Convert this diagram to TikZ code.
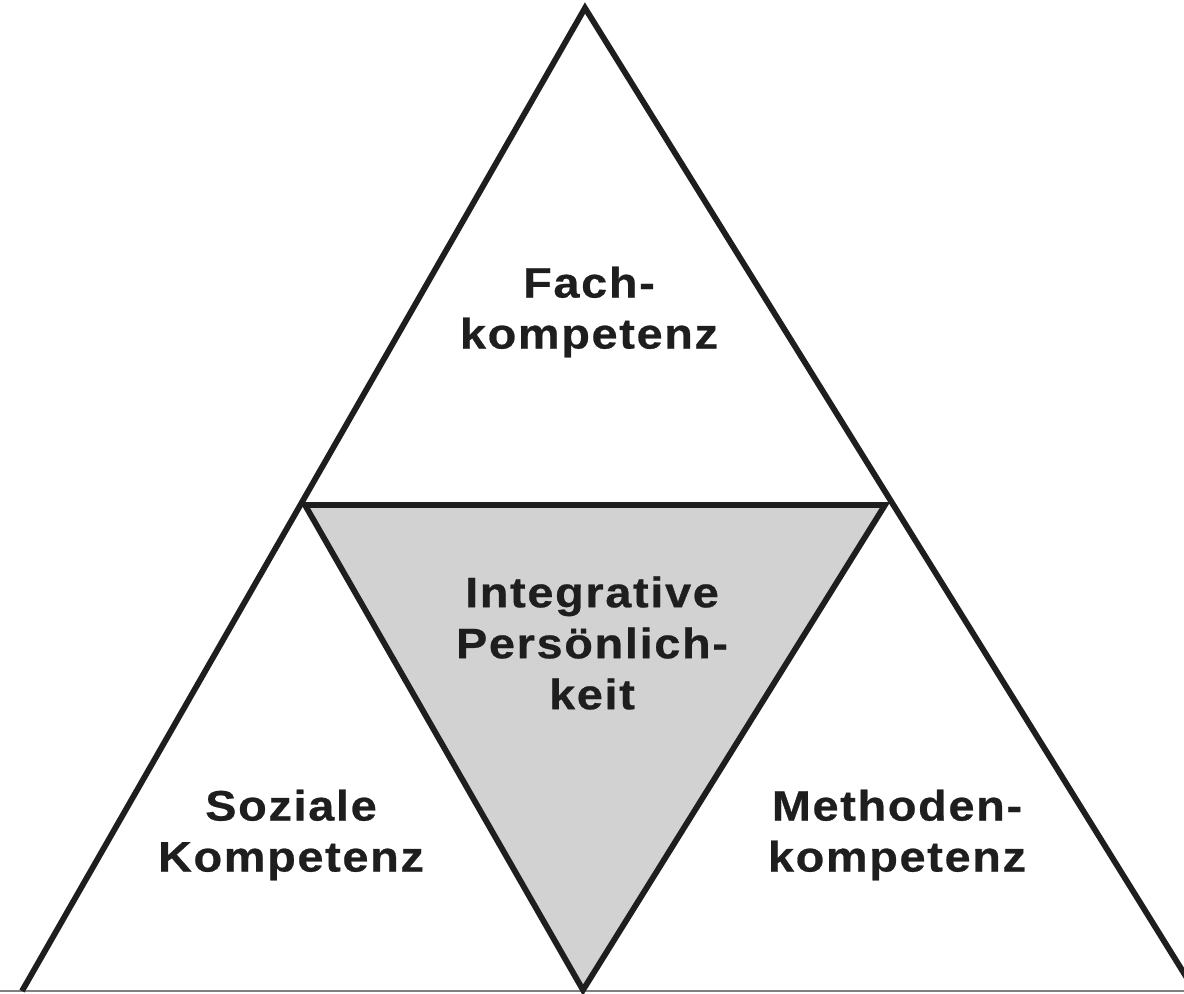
\documentclass[tikz,border=0pt]{standalone}
\usepackage{fontspec}
\setmainfont{Liberation Sans}
\newfontfamily\compfont{Liberation Sans}[LetterSpace=4, FakeStretch=1.1, FakeBold=0.6]
\usetikzlibrary{positioning}
\definecolor{innerGray}{HTML}{D2D2D2}
\definecolor{edgeBlack}{HTML}{1E1E1E}
\definecolor{baseGray}{HTML}{808080}

\begin{document}
\begin{tikzpicture}[
    x=0.01cm, y=-0.01cm,
    edge/.style={draw=edgeBlack, line width=1.65pt, line join=miter},
    comp/.style={align=center, inner sep=0pt, text=edgeBlack, font=\compfont\fontsize{12.1}{14.5}\selectfont\bfseries},
]
    \useasboundingbox (0,0) rectangle (1184,993);
    \clip (0,0) rectangle (1184,993);

    \coordinate (apex) at (585,8);
    \coordinate (outerL) at (22,991);
    \coordinate (outerR) at (1195,991);
    \coordinate (innerL) at (305,505);
    \coordinate (innerR) at (885,505);
    \coordinate (innerB) at (583,990);

    \fill[innerGray] (innerL) -- (innerR) -- (innerB) -- cycle;
    \draw[baseGray, line width=0.6pt] (0,991) -- (1184,991);
    \draw[edge] (outerL) -- (apex) -- (outerR);
    \draw[edge] (innerL) -- (innerR) -- (innerB) -- cycle;

    \node[comp] (fach) at (589,312) {Fach-\\kompetenz};
    \node[comp] (integ) at (592,643) {Integrative\\Persönlich-\\keit};
    \node[comp] (sozial) at (291,835) {Soziale\\Kompetenz};
    \node[comp] (methode) at (897,835) {Methoden-\\kompetenz};
\end{tikzpicture}
\end{document}
